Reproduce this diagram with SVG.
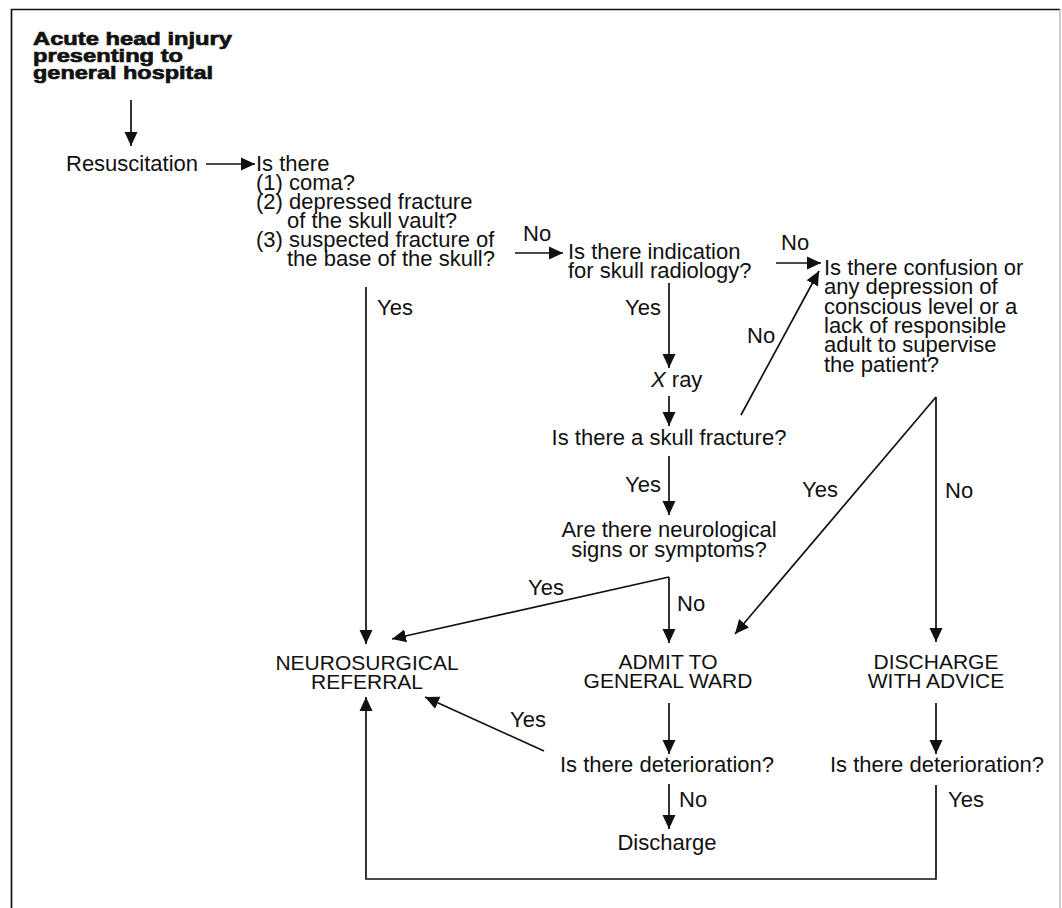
<svg xmlns="http://www.w3.org/2000/svg" width="1062" height="908" viewBox="0 0 1062 908">
<style>
.t{font-family:"Liberation Sans",Arial,Helvetica,sans-serif;font-size:22px;fill:#111}
.c{text-anchor:middle}
.cap{font-size:21px}
.b{font-weight:bold;font-size:19px;stroke:#111;stroke-width:0.7}
.ln{stroke:#111;stroke-width:1.7;fill:none}
.ar{stroke:#111;stroke-width:1.7;fill:none;marker-end:url(#ah)}
</style>
<defs>
<marker id="ah" markerUnits="userSpaceOnUse" markerWidth="15" markerHeight="14" refX="14" refY="7" orient="auto">
<path d="M0,0.5 L14,7 L0,13.5 z" fill="#111"/>
</marker>
</defs>
<rect width="1062" height="908" fill="#fff"/>
<g id="frame">
<path d="M11.5,925 V9.5 H1060" class="ln" stroke-width="2"/>
<line x1="1060" y1="9.5" x2="1060" y2="925" stroke="#bbb" stroke-width="1.5"/>
</g>
<g id="connectors">
<line class="ar" x1="131" y1="100" x2="131" y2="146"/>
<line class="ar" x1="206" y1="164" x2="255" y2="164"/>
<line class="ar" x1="515" y1="253" x2="563" y2="253"/>
<line class="ar" x1="776" y1="263" x2="821" y2="263"/>
<line class="ar" x1="366" y1="287" x2="366" y2="644"/>
<line class="ar" x1="669" y1="283" x2="669" y2="368"/>
<line class="ar" x1="669" y1="396" x2="669" y2="426"/>
<line class="ar" x1="741" y1="415" x2="819" y2="271"/>
<line class="ar" x1="669" y1="456" x2="669" y2="515"/>
<line class="ar" x1="669" y1="577" x2="392" y2="639"/>
<line class="ar" x1="669" y1="577" x2="669" y2="643"/>
<line class="ar" x1="936" y1="397" x2="735" y2="634"/>
<line class="ar" x1="936" y1="397" x2="936" y2="642"/>
<line class="ar" x1="669" y1="703" x2="669" y2="754"/>
<line class="ar" x1="936" y1="703" x2="936" y2="754"/>
<line class="ar" x1="544" y1="751" x2="425" y2="697"/>
<line class="ar" x1="669" y1="784" x2="669" y2="829"/>
<polyline class="ar" points="936,785 936,879 366,879 366,697"/>
</g>
<g id="n_start"><text class="t b" x="33" y="45" textLength="199" lengthAdjust="spacingAndGlyphs">Acute head injury</text>
<text class="t b" x="33" y="62" textLength="150" lengthAdjust="spacingAndGlyphs">presenting to</text>
<text class="t b" x="33" y="79" textLength="180" lengthAdjust="spacingAndGlyphs">general hospital</text></g>
<g id="n_resus"><text class="t" x="66" y="171">Resuscitation</text></g>
<g id="n_q1"><text class="t" x="256" y="171">Is there</text>
<text class="t" x="256" y="190">(1) coma?</text>
<text class="t" x="256" y="209">(2) depressed fracture</text>
<text class="t" x="287" y="228">of the skull vault?</text>
<text class="t" x="256" y="247">(3) suspected fracture of</text>
<text class="t" x="287" y="266">the base of the skull?</text></g>
<g id="n_q2"><text class="t" x="568" y="259">Is there indication</text>
<text class="t" x="568" y="278">for skull radiology?</text></g>
<g id="n_q3"><text class="t" x="824" y="275">Is there confusion or</text>
<text class="t" x="824" y="294">any depression of</text>
<text class="t" x="824" y="313.5">conscious level or a</text>
<text class="t" x="824" y="333">lack of responsible</text>
<text class="t" x="824" y="352">adult to supervise</text>
<text class="t" x="824" y="371.5">the patient?</text></g>
<g id="n_xray"><text class="t" x="651" y="387"><tspan font-style="italic">X</tspan> ray</text></g>
<g id="n_q4"><text class="t c" x="669" y="445">Is there a skull fracture?</text></g>
<g id="n_q5"><text class="t c" x="669" y="537">Are there neurological</text>
<text class="t c" x="669" y="557">signs or symptoms?</text></g>
<g id="n_neuro"><text class="t c cap" x="367" y="670">NEUROSURGICAL</text>
<text class="t c cap" x="367" y="689">REFERRAL</text></g>
<g id="n_admit"><text class="t c cap" x="668" y="669">ADMIT TO</text>
<text class="t c cap" x="668" y="688">GENERAL WARD</text></g>
<g id="n_disadv"><text class="t c cap" x="936" y="669">DISCHARGE</text>
<text class="t c cap" x="936" y="688">WITH ADVICE</text></g>
<g id="n_det1"><text class="t c" x="667" y="772">Is there deterioration?</text></g>
<g id="n_det2"><text class="t c" x="937" y="772">Is there deterioration?</text></g>
<g id="n_dis"><text class="t c" x="667" y="850">Discharge</text></g>
<g id="labels">
<text class="t" x="523" y="241">No</text>
<text class="t" x="781" y="250">No</text>
<text class="t" x="377" y="315">Yes</text>
<text class="t" x="625" y="315">Yes</text>
<text class="t" x="747" y="343">No</text>
<text class="t" x="625" y="492">Yes</text>
<text class="t" x="802" y="497">Yes</text>
<text class="t" x="945" y="498">No</text>
<text class="t" x="528" y="595">Yes</text>
<text class="t" x="677" y="611">No</text>
<text class="t" x="510" y="727">Yes</text>
<text class="t" x="679" y="807">No</text>
<text class="t" x="948" y="807">Yes</text>
</g>
</svg>
